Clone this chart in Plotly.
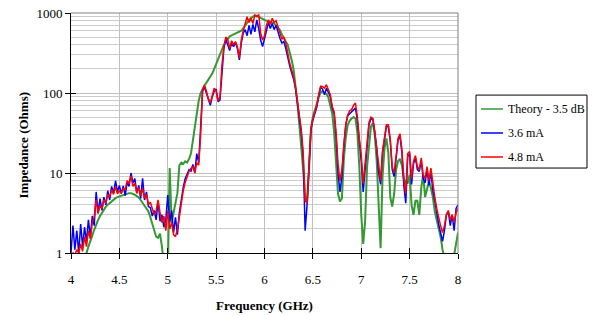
import numpy as np
import plotly.graph_objects as go

# Frequency grid (GHz), 0.02 GHz spacing from 4 to 8
FREQ_START, FREQ_STOP, N_POINTS = 4.0, 8.0, 201
freq = np.linspace(FREQ_START, FREQ_STOP, N_POINTS)

theory_35db = [
    0.3, 0.35, 0.4, 0.5, 0.6, 0.7, 0.8, 0.9, 1.0, 1.2,
    1.45, 1.65, 1.95, 2.3, 2.6, 2.9, 3.2, 3.5, 3.8, 4.0,
    4.2, 4.45, 4.65, 4.85, 5.0, 5.1, 5.25, 5.4, 5.5, 5.55,
    5.6, 5.6, 5.5, 5.35, 5.15, 4.95, 4.6, 4.3, 3.9, 3.6,
    3.3,
    2.8, 2.3, 1.9, 1.6, 1.55, 1.75, 1.2, 0.6, 0.4, 0.5,
    11.5, 2.4, 3.3, 4.4, 5.6, 12.5, 13.5, 13, 14, 13.5,
    15, 17.5, 25, 38, 58, 80, 100, 115,
    125, 135, 148, 160, 175, 200, 230, 265, 310, 360, 400, 440,
    480, 510, 525, 540, 555, 570, 585, 600, 640, 700,
    760, 820, 870, 910, 930, 920, 890, 860, 840, 820,
    800, 790, 780, 760, 740, 700, 660, 610, 540, 480,
    440, 400, 330, 260, 200, 130, 75, 40, 22, 11,
    5, 4.3, 11, 35, 50, 62, 72, 88, 102, 105,
    100, 98, 88, 70, 55, 32, 12, 5.5, 4.4, 4.8,
    15, 28, 40, 45, 48, 50, 48, 32, 12, 3,
    1.3, 2.5, 12, 24, 38, 42, 30, 14, 4, 1.15,
    9, 20, 27, 18, 5, 3.8, 5.5, 11, 14, 15,
    12.5, 8.5, 7.5, 7.5, 9.5, 4, 3.0, 4.5, 4.5, 3.0,
    6.5, 9.5, 5, 6.5, 7.9, 6.5, 5, 3.3, 2.6, 2.0,
    1.6, 1.1, 0.8, 0.6, 0.5, 0.55, 0.7, 0.95, 1.3, 1.8,
]

meas_36ma = [
    1.0, 2.2, 1.1, 1.9, 1.0, 2.3, 1.2, 2.1, 1.4, 2.6,
    1.6, 2.9, 2.2, 5.8, 3.2, 4.8, 3.4, 5.0, 4.0, 6.0,
    4.6, 6.8, 5.6, 8.0, 5.8, 7.0, 5.5, 6.9, 5.2, 7.6,
    6.8, 10.0, 7.5, 8.5, 5.6, 7.0, 4.8, 8.6, 4.6, 5.8,
    3.8,
    3.7, 2.9, 3.4, 2.6, 4.4, 2.5, 3.0, 2.1, 2.6, 5.3,
    2.4, 3.4, 1.8, 2.8, 1.7, 3.2, 4.8, 6.6, 8.5, 9.6,
    11.0, 10.5, 12.8, 10.2, 17.5, 13.5, 45, 105,
    118, 100, 80, 70, 90, 105, 112, 78, 82, 200, 360, 470,
    400, 340, 420, 380, 430, 360, 260, 420, 560, 620,
    520, 700, 540, 720, 580, 820, 640, 460, 380, 460,
    600, 760, 640, 740, 620, 700, 560, 480, 420, 440,
    360, 270, 220, 180, 150, 115, 75, 50, 32, 16,
    1.9, 4.0, 14, 35, 46, 55, 66, 92, 118, 112,
    95, 115, 100, 90, 65, 55, 28, 10, 5.8, 9,
    22, 40, 52, 55, 58, 62, 65, 45, 26, 14,
    5.8, 12, 24, 40, 48, 47, 32, 20, 10, 7.2,
    18, 26, 38, 38, 25, 11, 9, 15, 26, 29,
    18, 7, 4.2, 16, 17.5, 7.2, 13, 15.5, 11, 10.5,
    14.5, 8.5, 7.5, 11, 7, 10.5, 6, 4.5, 3.0, 2.3,
    1.8, 1.4, 1.9, 3.0, 3.3, 2.2, 3.0, 1.9, 3.6, 4.0,
]

meas_48ma = [
    0.9, 1.0, 0.95, 1.1, 1.0, 1.3, 1.05, 1.6, 1.2, 1.9,
    1.5, 2.4, 2.8, 4.6, 3.1, 3.9, 3.6, 4.6, 4.2, 5.4,
    5.0, 6.2, 5.4, 6.8, 5.5, 6.0, 5.6, 6.4, 6.2, 8.0,
    7.4, 9.2, 6.8, 7.4, 5.6, 6.6, 5.2, 6.4, 4.8, 5.4,
    4.0,
    4.3, 3.6, 3.0, 3.4, 4.6, 3.2, 2.4, 2.9, 1.9, 3.4,
    2.0, 2.4, 1.7, 1.6, 2.0, 2.8, 4.2, 6.0, 7.6, 9.2,
    10.5, 11.5, 12.0, 10.0, 13.5, 12.5, 30, 110,
    125, 105, 85, 75, 95, 115, 105, 80, 90, 220, 380, 500,
    470, 360, 450, 400, 440, 380, 275, 460, 600, 720,
    900, 760, 860, 740, 940, 900, 960, 560, 460, 520,
    700, 820, 720, 860, 760, 800, 640, 560, 470, 500,
    420, 300, 240, 195, 160, 120, 82, 55, 35, 18,
    4.5, 4.2, 14, 36, 48, 57, 70, 96, 122, 120,
    115, 127, 110, 95, 68, 58, 32, 13, 8, 11,
    22, 40, 53, 60, 62, 70, 75, 50, 27, 17,
    7.4, 13, 25, 43, 50, 48, 33, 21, 12, 8,
    19, 27, 40, 40, 26, 12, 10, 16, 27, 31,
    20, 8.5, 5.5, 17.5, 18.5, 8.5, 14, 16.5, 12, 11,
    15.5, 9.5, 8.5, 12, 8, 11.5, 7, 5, 3.6, 2.7,
    2.2, 1.8, 2.2, 3.0, 3.4, 2.6, 3.0, 2.4, 3.2, 3.6,
]

series_names = ["Theory - 3.5 dB", "3.6 mA", "4.8 mA"]
series_colors = ["#339933", "#0000FF", "#FF0000"]
series_widths = [2, 1.5, 1.5]

x_ticks = [4, 4.5, 5, 5.5, 6, 6.5, 7, 7.5, 8]
x_ticktext = ["4", "4.5", "5", "5.5", "6", "6.5", "7", "7.5", "8"]
y_ticks = [1, 10, 100, 1000]
y_ticktext = ["1", "10", "100", "1000"]
y_minor = [m * d for d in (1, 10, 100) for m in range(2, 10)]

FONT = "Liberation Serif, Times New Roman, serif"

fig = go.Figure()
for name, vals, col, w in zip(series_names, [theory_35db, meas_36ma, meas_48ma],
                              series_colors, series_widths):
    fig.add_trace(go.Scatter(x=freq, y=vals, mode="lines", name=name,
                             line=dict(color=col, width=w), showlegend=False))
# empty trace to host the overlay axes (inside tick marks)
fig.add_trace(go.Scatter(x=[], y=[], xaxis="x2", yaxis="y2", showlegend=False, hoverinfo="skip"))

# legend box drawn in paper coordinates (outside the plot area, to the right)
LEG_X0, LEG_X1, LEG_Y0, LEG_Y1 = 1.0465, 1.3333, 0.354, 0.658
LEG_ROWS = [0.6, 0.5, 0.4]
LEG_LINE_X0, LEG_LINE_X1, LEG_TEXT_X = 1.0594, 1.1163, 1.1240

shapes = [
    dict(type="line", xref="paper", yref="paper", x0=0, x1=1, y0=1, y1=1,
         line=dict(color="#808080", width=1), layer="above"),
    dict(type="line", xref="paper", yref="paper", x0=1, x1=1, y0=0, y1=1,
         line=dict(color="#808080", width=1), layer="above"),
    dict(type="rect", xref="paper", yref="paper", x0=LEG_X0, x1=LEG_X1, y0=LEG_Y0, y1=LEG_Y1,
         line=dict(color="black", width=1), fillcolor="white", layer="above"),
]
annotations = [
    dict(text="<b>Frequency (GHz)</b>", xref="paper", yref="paper", x=0.5, y=-0.217,
         xanchor="center", yanchor="middle", showarrow=False,
         font=dict(family=FONT, size=13, color="black")),
    dict(text="<b>Impedance (Ohms)</b>", xref="paper", yref="paper", x=-0.1253, y=0.45,
         xanchor="center", yanchor="middle", showarrow=False, textangle=-90,
         font=dict(family=FONT, size=13, color="black")),
]
for name, col, ry in zip(series_names, series_colors, LEG_ROWS):
    shapes.append(dict(type="line", xref="paper", yref="paper", x0=LEG_LINE_X0, x1=LEG_LINE_X1,
                       y0=ry, y1=ry, line=dict(color=col, width=1.5), layer="above"))
    annotations.append(dict(text=name, xref="paper", yref="paper", x=LEG_TEXT_X, y=ry,
                            xanchor="left", yanchor="middle", showarrow=False,
                            font=dict(family=FONT, size=12, color="black")))

fig.update_layout(
    width=593, height=316,
    margin=dict(l=71, r=135, t=13, b=63, autoexpand=False),
    paper_bgcolor="white", plot_bgcolor="white",
    font=dict(family=FONT, size=13, color="black"),
    showlegend=False,
    xaxis=dict(range=[4, 8], tickmode="array", tickvals=x_ticks, ticktext=x_ticktext,
               showgrid=True, gridcolor="#C0C0C0", gridwidth=1, zeroline=False,
               showline=True, linecolor="black", linewidth=1,
               ticks="outside", ticklen=5, tickcolor="black", tickwidth=1,
               ticklabelstandoff=9, tickfont=dict(size=13), ticklabeloverflow="allow"),
    yaxis=dict(type="log", range=[0, 3], tickmode="array", tickvals=y_ticks, ticktext=y_ticktext,
               showgrid=True, gridcolor="#C0C0C0", gridwidth=1, zeroline=False,
               showline=True, linecolor="black", linewidth=1,
               ticks="outside", ticklen=5, tickcolor="black", tickwidth=1,
               tickfont=dict(size=13), ticklabeloverflow="allow",
               minor=dict(tickmode="array", tickvals=y_minor, showgrid=True,
                          gridcolor="#CCCCCC", gridwidth=1, ticks="")),
    xaxis2=dict(overlaying="x", anchor="y2", range=[4, 8], tickmode="array", tickvals=x_ticks,
                showticklabels=False, showgrid=False, zeroline=False, showline=False,
                ticks="inside", ticklen=5, tickcolor="black", tickwidth=1),
    yaxis2=dict(overlaying="y", anchor="x2", type="log", range=[0, 3], tickmode="array",
                tickvals=y_ticks, showticklabels=False, showgrid=False, zeroline=False,
                showline=False, ticks="inside", ticklen=5, tickcolor="black", tickwidth=1),
    shapes=shapes,
    annotations=annotations,
)

fig.write_html("out.html", config={"displayModeBar": False},
               post_script="document.body.style.margin='0';")
